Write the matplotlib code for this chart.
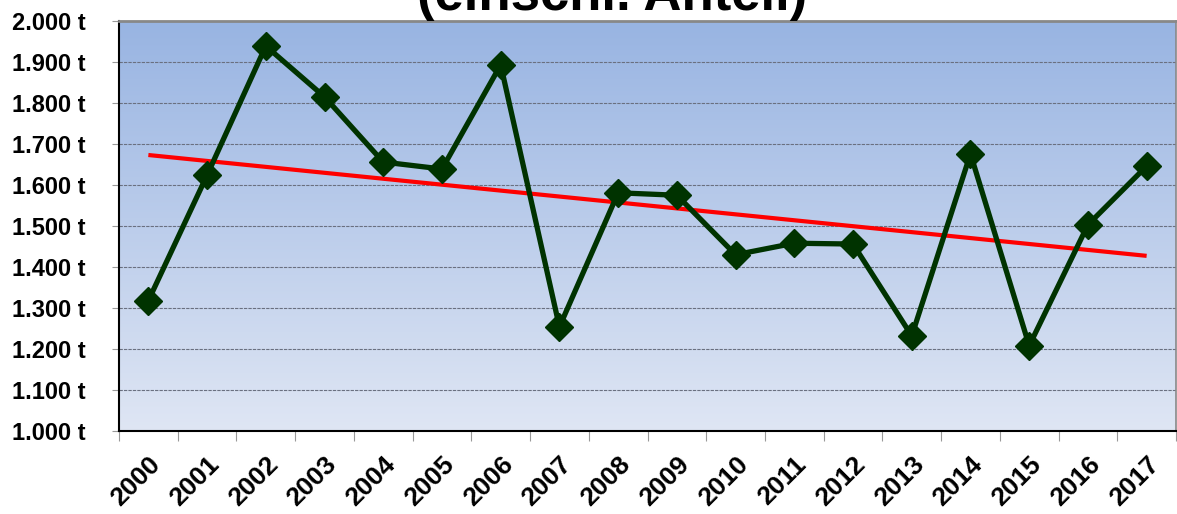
import numpy as np
import matplotlib.pyplot as plt

years = [str(y) for y in range(2000, 2018)]
values = [1318, 1624, 1939, 1815, 1656, 1639, 1893, 1254, 1581, 1575,
          1430, 1458, 1456, 1232, 1676, 1208, 1503, 1646]
yticks = list(range(1000, 2001, 100))
ytick_labels = [f"{v // 1000}.{v % 1000:03d} t" for v in yticks]

plt.rcParams['font.family'] = ['Liberation Sans', 'DejaVu Sans']

fig = plt.figure(figsize=(11.77, 5.14), dpi=100)
ax = fig.add_axes([119 / 1177, 1 - 431 / 514, (1176 - 119) / 1177, (431 - 21) / 514])

x = np.arange(len(years))
ax.set_xlim(-0.5, len(years) - 0.5)
ax.set_ylim(1000, 2000)

# gradient background
grad = np.linspace(0, 1, 256).reshape(-1, 1)
top = np.array([0x98, 0xb4, 0xe2]) / 255
bot = np.array([0xdf, 0xe6, 0xf4]) / 255
img = bot + (top - bot) * grad
ax.imshow(img[:, None, :].repeat(2, axis=1), extent=[-0.5, len(years) - 0.5, 1000, 2000],
          origin='lower', aspect='auto', zorder=0)

for v in yticks[1:-1]:
    ax.axhline(v, color='#6a7080', lw=0.8, ls=(0, (3, 1)), zorder=1)

# trend line
k, d = np.polyfit(x, values, 1)
ax.plot(x, k * x + d, color='#ff0000', lw=3, zorder=2, solid_capstyle='butt')

ax.plot(x, values, color='#003300', lw=3.8, marker='D', markersize=14,
        markerfacecolor='#003300', markeredgecolor='#003300', zorder=3)

ax.set_yticks(yticks)
ax.set_yticklabels(ytick_labels, fontsize=17, fontweight='bold')
ax.set_xticks(np.arange(len(years) + 1) - 0.5, minor=False)
ax.set_xticklabels([])
ax.set_xticks(x, minor=True)
ax.set_xticklabels(years, minor=True, rotation=45, ha='right', va='top',
                   rotation_mode='anchor', fontsize=19, fontweight='bold')
ax.tick_params(axis='x', which='minor', length=0, pad=15)
ax.tick_params(axis='x', which='major', length=7, color='#999999')
ax.tick_params(axis='y', length=5, color='#999999', pad=19)

ax.spines['left'].set_color('black')
ax.spines['bottom'].set_color('black')
ax.spines['left'].set_linewidth(1.5)
ax.spines['bottom'].set_linewidth(1.5)
ax.spines['top'].set_color('#888888')
ax.spines['right'].set_color('#888888')
ax.spines['top'].set_linewidth(2)
ax.spines['right'].set_linewidth(1.2)

fig.text(0.52, 1 - 10 / 514, "(einschl. Anteil)", ha='center', va='baseline',
         fontsize=38, fontweight='bold')

fig.savefig('out.png', dpi=100)
